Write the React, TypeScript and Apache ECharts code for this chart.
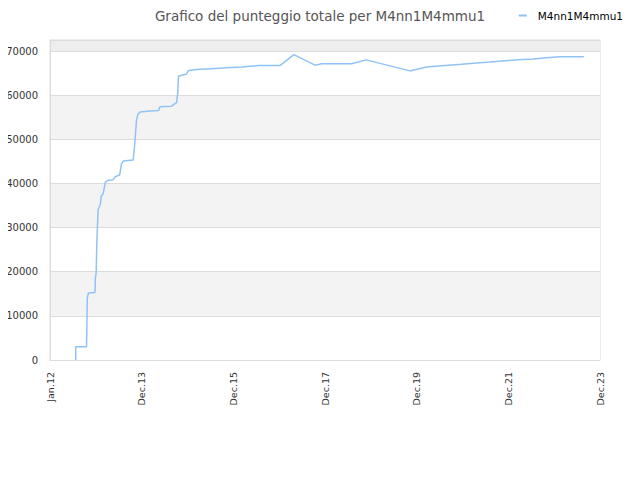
import React, { useEffect, useRef } from "react";
import * as echarts from "echarts";

const title = "Grafico del punteggio totale per M4nn1M4mmu1";
const seriesName = "M4nn1M4mmu1";
const xTickLabels = ["Jan.12", "Dec.13", "Dec.15", "Dec.17", "Dec.19", "Dec.21", "Dec.23"];
// months since Jan 2012
const monthsSpan = 143;
const months = [
  6.7, 6.7, 9.5, 9.6, 9.7, 10.0, 11.7, 11.8, 12.0, 12.2, 12.5, 12.9, 13.1, 13.3, 13.8, 14.0,
  14.4, 15.1, 16.4, 16.9, 18.1, 18.6, 19.1, 21.6, 21.9, 22.1, 22.5, 22.9, 23.4, 26.0, 28.2,
  28.6, 31.6, 32.9, 33.2, 33.4, 35.5, 36.0, 38.1, 42.0, 45.9, 49.8, 54.2, 59.8, 63.4, 68.9,
  70.6, 78.4, 82.2, 93.6, 97.9, 103.6, 107.0, 110.9, 114.4, 118.3, 121.8, 125.7, 129.1,
  132.6, 138.8,
];
const scores = [
  0, 3000, 3000, 8700, 14100, 15200, 15300, 18600, 19700, 27200, 34000, 34900, 35300, 37100,
  37600, 38500, 40300, 40700, 40800, 41500, 41900, 44500, 45100, 45300, 47600, 49800, 54400,
  55700, 56200, 56400, 56500, 57400, 57500, 58300, 60400, 64300, 64800, 65600, 65800, 66000,
  66200, 66400, 66700, 66700, 69200, 66800, 67100, 67100, 68000, 65500, 66400, 66800, 67000,
  67300, 67500, 67800, 68000, 68200, 68500, 68700, 68700,
];

export default function App() {
  const ref = useRef<HTMLDivElement>(null);
  useEffect(() => {
    if (!ref.current) return;
    const chart = echarts.init(ref.current, null, { renderer: "svg" });
    const step = monthsSpan / 6;
    chart.setOption({
      animation: false,
      backgroundColor: "#fff",
      textStyle: { fontFamily: "DejaVu Sans" },
      title: {
        text: title,
        left: "center",
        top: 4,
        textStyle: { fontSize: 13.5, fontWeight: "normal", color: "#555", fontFamily: "DejaVu Sans" },
      },
      legend: {
        right: 12,
        top: 5,
        icon: "rect",
        itemWidth: 8,
        itemHeight: 2,
        itemGap: 10,
        textStyle: { fontSize: 10.5, color: "#000", fontFamily: "DejaVu Sans", padding: [0, 0, 0, 6] },
        data: [seriesName],
      },
      grid: {
        left: 50,
        right: 40,
        top: 40,
        bottom: 120,
        show: true,
        borderColor: "#dcdcdc",
        borderWidth: 1,
        backgroundColor: "transparent",
      },
      xAxis: {
        type: "value",
        min: 0,
        max: monthsSpan,
        interval: step,
        axisLine: { show: true, lineStyle: { color: "#dcdcdc" } },
        axisTick: { show: false },
        splitLine: { show: false },
        axisLabel: {
          rotate: 90,
          fontSize: 9.5,
          color: "#333",
          margin: 12,
          showMaxLabel: true,
          showMinLabel: true,
          formatter: (v: number) => {
            const i = Math.round(v / step);
            return Math.abs(v - i * step) < 0.01 ? xTickLabels[i] ?? "" : "";
          },
        },
      },
      yAxis: {
        type: "value",
        min: 0,
        max: 72500,
        interval: 10000,
        axisLine: { show: true, lineStyle: { color: "#dcdcdc" } },
        axisTick: { show: false },
        splitLine: { show: true, lineStyle: { color: "#dcdcdc" } },
        splitArea: {
          show: true,
          areaStyle: {
            color: ["#ffffff", "#f3f3f3", "#ffffff", "#f3f3f3", "#ffffff", "#f3f3f3", "#ffffff", "#eeeeee"],
          },
        },
        axisLabel: {
          fontSize: 10,
          color: "#333",
          margin: 12,
          showMaxLabel: false,
          formatter: (v: number) => (v % 10000 === 0 ? String(v) : ""),
        },
      },
      series: [
        {
          name: seriesName,
          type: "line",
          showSymbol: false,
          symbol: "none",
          data: months.map((m, i) => [m, scores[i]]),
          lineStyle: { color: "#90c3f5", width: 1.5 },
          itemStyle: { color: "#90c3f5" },
        },
      ],
    });
    return () => chart.dispose();
  }, []);
  return <div ref={ref} style={{ width: 640, height: 480, margin: -8 }} />;
}
